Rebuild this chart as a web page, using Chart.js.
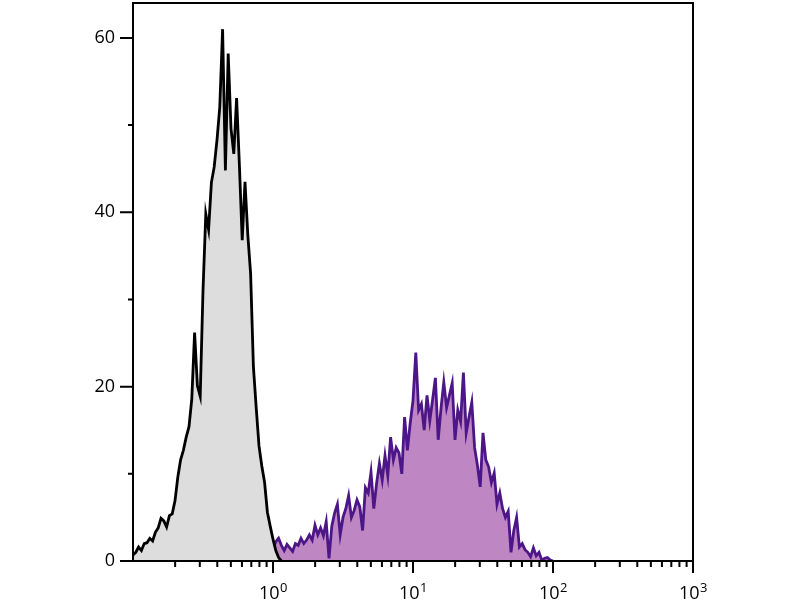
<!DOCTYPE html>
<html><head><meta charset="utf-8">
<script src="https://cdn.jsdelivr.net/npm/chart.js@4"></script>
<style>html,body{margin:0;padding:0;background:#fff}canvas{display:block}</style>
</head><body>
<canvas id="c" width="800" height="600"></canvas>
<script>
// log10 of fluorescence channel (bin centres)
const grayLog = [-1.00,-0.98,-0.96,-0.94,-0.92,-0.90,-0.88,-0.86,-0.84,-0.82,-0.80,-0.78,-0.76,-0.74,-0.72,-0.70,-0.68,-0.66,-0.64,-0.62,-0.60,-0.58,-0.56,-0.54,-0.52,-0.50,-0.48,-0.46,-0.44,-0.42,-0.40,-0.38,-0.36,-0.34,-0.32,-0.30,-0.28,-0.26,-0.24,-0.22,-0.20,-0.18,-0.16,-0.14,-0.12,-0.10,-0.08,-0.06,-0.04,-0.02,0.00,0.02,0.04,0.06];
const grayCounts = [0.7,1.0,1.6,1.2,2.0,2.1,2.6,2.3,3.3,3.8,4.9,4.6,3.9,5.2,5.4,6.9,9.6,11.6,12.7,14.2,15.4,18.6,26.2,20.1,18.9,31.0,39.8,38.0,43.4,45.2,48.3,52.1,61.0,44.8,58.2,49.6,46.7,53.1,45.4,36.8,43.5,37.4,33.0,22.3,17.6,13.2,10.9,9.0,5.6,4.0,2.5,1.2,0.4,0];

const purpleLog = [-0.96,-0.94,-0.92,-0.90,-0.88,-0.86,-0.84,-0.82,-0.80,-0.78,-0.76,-0.74,-0.72,-0.70,-0.68,-0.66,-0.64,-0.62,-0.60,-0.58,-0.56,-0.54,-0.52,-0.50,-0.48,-0.46,-0.44,-0.42,-0.40,-0.38,-0.36,-0.34,-0.32,-0.30,-0.28,-0.26,-0.24,-0.22,-0.20,-0.18,-0.16,-0.14,-0.12,-0.10,-0.08,-0.06,-0.04,-0.02,0.00,0.02,0.04,0.06,0.08,0.10,0.12,0.14,0.16,0.18,0.20,0.22,0.24,0.26,0.28,0.30,0.32,0.34,0.36,0.38,0.40,0.42,0.44,0.46,0.48,0.50,0.52,0.54,0.56,0.58,0.60,0.62,0.64,0.66,0.68,0.70,0.72,0.74,0.76,0.78,0.80,0.82,0.84,0.86,0.88,0.90,0.92,0.94,0.96,0.98,1.00,1.02,1.04,1.06,1.08,1.10,1.12,1.14,1.16,1.18,1.20,1.22,1.24,1.26,1.28,1.30,1.32,1.34,1.36,1.38,1.40,1.42,1.44,1.46,1.48,1.50,1.52,1.54,1.56,1.58,1.60,1.62,1.64,1.66,1.68,1.70,1.72,1.74,1.76,1.78,1.80,1.82,1.84,1.86,1.88,1.90,1.92,1.94,1.96,1.98,2.00];
const purpleCounts = [0,0,0,0,0,0.4,0,0.3,0,0,0,0,0,0,0.2,0.6,0.1,0,0,0,0,0.2,0.5,0,0.1,0.3,0.5,0.6,0.4,0.6,0.3,0.7,0.9,0.6,1.2,1.6,0.7,1.1,0.9,1.4,1.8,2.4,1.1,1.5,2.0,1.2,1.4,1.8,1.4,2.2,2.6,1.8,1.2,1.9,1.5,1.1,2.0,1.8,2.6,2.0,2.4,3.0,2.4,4.1,3.0,3.8,2.9,4.5,0.3,4.0,5.5,6.5,3.0,5.0,6.0,7.5,5.0,5.8,7.0,6.2,3.5,8.4,7.8,10.2,6.0,8.9,11.2,9.3,12.1,9.8,14.2,11.6,13.0,12.4,10.0,16.5,12.7,15.8,18.4,23.9,17.3,18.0,15.0,19.0,16.1,18.5,21.0,13.9,17.5,20.5,17.6,19.0,20.4,13.9,17.3,16.0,21.6,14.7,16.5,18.2,13.0,11.0,8.5,14.7,11.6,10.8,9.0,10.1,6.5,7.8,6.0,5.0,5.7,1.0,3.5,5.0,1.6,2.0,1.3,1.0,0.5,1.5,0.6,1.0,0.1,0.3,0.4,0.1,0];

// axis ticks
const xDecades = [0.1, 1, 10, 100, 1000];
const xDecadeExponents = ['', '0', '1', '2', '3'];
const xMinorMultipliers = [2, 3, 4, 5, 6, 7, 8, 9];
const yTickValues = [0, 10, 20, 30, 40, 50, 60];
const yTickLabels = ['0', '', '20', '', '40', '', '60'];

const FONT = '"Open Sans", "DejaVu Sans", sans-serif';

const xTickList = [];
xDecades.forEach((d, i) => {
  xTickList.push({value: d, major: true, exp: xDecadeExponents[i]});
  if (i < xDecades.length - 1) xMinorMultipliers.forEach(m => xTickList.push({value: d * m, major: false}));
});

function toPoints(logs, counts) { return logs.map((l, i) => ({x: Math.pow(10, l), y: counts[i]})); }

const framePlugin = {
  id: 'frame',
  afterDraw(chart) {
    const {ctx, chartArea: a, scales} = chart;
    ctx.save();
    ctx.strokeStyle = '#000';
    ctx.lineWidth = 2;
    ctx.strokeRect(a.left, a.top, a.right - a.left, a.bottom - a.top);
    ctx.beginPath();
    yTickValues.forEach((v, i) => {
      const py = scales.y.getPixelForValue(v);
      const len = yTickLabels[i] !== '' ? 13 : 5;
      ctx.moveTo(a.left - len, py); ctx.lineTo(a.left, py);
    });
    xTickList.forEach(t => {
      if (t.major && t.exp === '') return;
      const px = scales.x.getPixelForValue(t.value);
      const len = t.major ? 12 : 6;
      ctx.moveTo(px, a.bottom); ctx.lineTo(px, a.bottom + len);
    });
    ctx.stroke();
    ctx.fillStyle = '#000';
    ctx.textBaseline = 'alphabetic';
    ctx.textAlign = 'left';
    xTickList.forEach(t => {
      if (!t.major || t.exp === '') return;
      const px = scales.x.getPixelForValue(t.value);
      ctx.font = '18px ' + FONT;
      const w1 = ctx.measureText('10').width;
      ctx.font = '13px ' + FONT;
      const w2 = ctx.measureText(t.exp).width;
      const x0 = px - (w1 + w2) / 2;
      ctx.font = '18px ' + FONT;
      ctx.fillText('10', x0, a.bottom + 38);
      ctx.font = '13px ' + FONT;
      ctx.fillText(t.exp, x0 + w1 + 0.5, a.bottom + 31);
    });
    ctx.restore();
  }
};

new Chart(document.getElementById('c'), {
  type: 'line',
  data: {
    datasets: [
      {
        label: 'Control',
        data: toPoints(grayLog, grayCounts),
        borderColor: '#000000',
        backgroundColor: 'rgb(221,221,221)',
        borderWidth: 2.8,
        fill: 'origin',
        pointRadius: 0,
        tension: 0
      },
      {
        label: 'Stained',
        data: toPoints(purpleLog, purpleCounts),
        borderColor: 'rgb(76,22,136)',
        backgroundColor: 'rgb(190,134,194)',
        borderWidth: 2.8,
        fill: 'origin',
        pointRadius: 0,
        tension: 0
      }
    ]
  },
  options: {
    responsive: false,
    animation: false,
    layout: {padding: {left: 0, right: 107, top: 3, bottom: 0}},
    plugins: {legend: {display: false}, tooltip: {enabled: false}},
    scales: {
      x: {
        type: 'logarithmic',
        min: 0.1,
        max: 1000,
        grid: {display: false, drawTicks: false},
        border: {display: false},
        ticks: {display: false},
        afterBuildTicks(s) { s.ticks = xTickList.map(t => ({value: t.value, major: t.major})); },
        afterFit(s) { s.height = 39; s.paddingLeft = 0; s.paddingRight = 0; s.paddingTop = 0; s.paddingBottom = 0; }
      },
      y: {
        type: 'linear',
        min: 0,
        max: 64,
        grid: {display: false, drawTicks: false},
        border: {display: false},
        afterBuildTicks(s) { s.ticks = yTickValues.map(v => ({value: v})); },
        ticks: {
          padding: 18,
          color: '#000',
          font: {family: FONT, size: 18},
          callback: (v) => { const i = yTickValues.indexOf(v); return i >= 0 ? yTickLabels[i] : ''; }
        },
        afterFit(s) { s.width = 133; s.paddingTop = 0; s.paddingBottom = 0; s.paddingLeft = 0; s.paddingRight = 0; }
      }
    }
  },
  plugins: [framePlugin]
});
</script>
</body></html>
